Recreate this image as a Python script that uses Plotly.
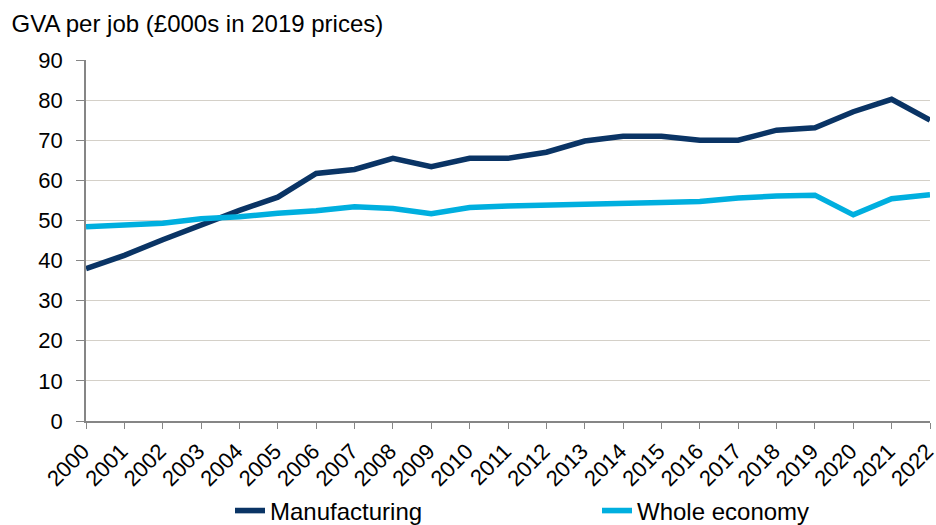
import plotly.graph_objects as go

years = list(range(2000, 2023))
year_labels = [str(y) for y in years]
manufacturing = [38.0, 41.3, 45.2, 49.0, 52.5, 55.8, 61.7, 62.7, 65.5, 63.4, 65.5, 65.5, 67.0,
                 69.8, 71.0, 71.0, 70.0, 70.0, 72.5, 73.1, 77.1, 80.2, 75.0]
whole_economy = [48.4, 48.9, 49.3, 50.4, 50.9, 51.8, 52.4, 53.4, 53.0, 51.7, 53.2, 53.6, 53.9,
                 54.1, 54.2, 54.5, 54.7, 55.6, 56.1, 56.3, 51.4, 55.4, 56.4]
y_ticks = list(range(0, 100, 10))

font = "Liberation Sans, Arial, sans-serif"

W, H = 936, 525

fig = go.Figure()
fig.add_trace(go.Scatter(x=years, y=manufacturing, mode="lines", name="Manufacturing",
                         line=dict(color="#0a3465", width=5.5), legend="legend",
                         showlegend=True))
fig.add_trace(go.Scatter(x=years, y=whole_economy, mode="lines", name="Whole economy",
                         line=dict(color="#00afdf", width=5.5), legend="legend2",
                         showlegend=True))

legend_common = dict(orientation="h", xref="container", yref="container", xanchor="left",
                     yanchor="middle", y=1 - 511 / H, font=dict(family=font, size=24),
                     bgcolor="rgba(0,0,0,0)")

fig.update_layout(
    width=W, height=H,
    showlegend=True,
    margin=dict(l=86, r=6, t=60, b=104),
    plot_bgcolor="white", paper_bgcolor="white",
    font=dict(family=font, size=22, color="#000000"),
    title=dict(text="GVA per job (£000s in 2019 prices)", x=11.5 / W, xanchor="left",
               xref="container", y=1 - 24 / H, yanchor="middle", yref="container",
               font=dict(family=font, size=24, color="#000000")),
    xaxis=dict(range=[2000, 2022], tickmode="array", tickvals=years, ticktext=year_labels,
               tickangle=-45, showline=True, linecolor="#868686", linewidth=1.5,
               ticks="outside", ticklen=6, tickcolor="#868686", showgrid=False,
               zeroline=False, tickfont=dict(size=22), automargin=False,
               ticklabelstandoff=1, ticklabelshift=-3, ticklabeloverflow="allow"),
    yaxis=dict(range=[0, 90], tickmode="array", tickvals=y_ticks, showline=True,
               linecolor="#868686", linewidth=1.5, ticks="outside", ticklen=8,
               tickcolor="#868686", gridcolor="#d4d0c8", gridwidth=1.3, zeroline=False,
               tickfont=dict(size=22), automargin=False, ticklabelstandoff=9),
    legend=dict(legend_common, x=(272 - 42) / W),
    legend2=dict(legend_common, x=(639 - 42) / W),
)

# Remove the browser's default 8px body margin so the figure fills the window.
fig.write_html("out.html",
               config={"displayModeBar": False},
               post_script="document.body.style.margin='0';"
                           "document.body.style.overflow='hidden';")
